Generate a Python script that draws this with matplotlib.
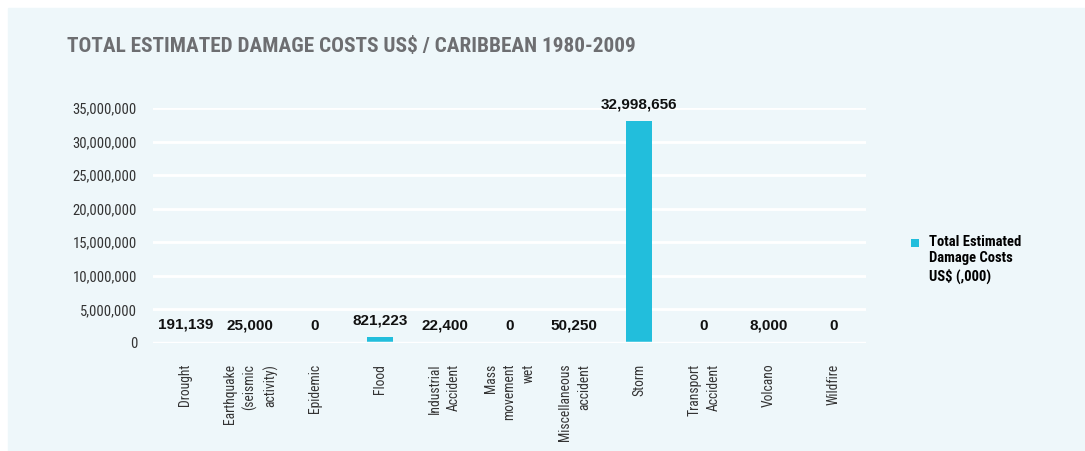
import matplotlib
matplotlib.use('Agg')
import matplotlib.pyplot as plt
import matplotlib.patches as mpatches
from matplotlib.container import BarContainer
from matplotlib.legend_handler import HandlerPatch, update_from_first_child
import numpy as np
from matplotlib.ticker import FuncFormatter
import logging
logging.getLogger('matplotlib.font_manager').setLevel(logging.ERROR)

# categorias e custos estimados (US$ mil)
categorias = ['Drought', 'Earthquake\n(seismic\nactivity)', 'Epidemic', 'Flood',
              'Industrial\nAccident', 'Mass\nmovement\nwet', 'Miscellaneous\naccident',
              'Storm', 'Transport\nAccident', 'Volcano', 'Wildfire']
custos = [191139, 25000, 0, 821223, 22400, 0, 50250, 32998656, 0, 8000, 0]
yticks = [0, 5000000, 10000000, 15000000, 20000000, 25000000, 30000000, 35000000]

fundo = '#eef7fa'
azul = '#22bedc'
estreita = ['Roboto Condensed', 'Liberation Sans Narrow', 'DejaVu Sans']
normal = ['Liberation Sans', 'DejaVu Sans']
plt.rcParams['font.family'] = estreita

fig = plt.figure(figsize=(10.85, 4.51), dpi=100)
fig.patch.set_facecolor('white')
# painel azul claro atras do grafico
fig.patches.append(plt.Rectangle((8/1085, 0), 1 - 8/1085, 1 - 8/451,
                                 transform=fig.transFigure, color=fundo, zorder=-1))

ax = fig.add_axes([153/1085, 1 - 343/451, 713/1085, 235/451])
ax.patch.set_alpha(0)

x = np.arange(len(categorias))
ax.bar(x, custos, width=0.4, color=azul, zorder=3, label='Total Estimated\nDamage Costs\nUS$ (,000)')
# linha do zero por cima das barras
ax.axhline(0, color='white', linewidth=2.5, zorder=4)

for xi, v in zip(x, custos):
    ax.annotate('{:,}'.format(v), (xi, v), xytext=(0, 12.5), textcoords='offset points',
                ha='center', va='center', fontsize=11, fontweight='bold', color='#111111',
                family=normal, clip_on=False)

ax.set_xlim(-0.5, len(categorias) - 0.5)
ax.set_ylim(0, 35000000)
ax.set_yticks(yticks)
ax.yaxis.set_major_formatter(FuncFormatter(lambda v, p: '{:,.0f}'.format(v)))
ax.grid(axis='y', color='white', linewidth=2, zorder=1)
ax.set_axisbelow(True)
for s in ax.spines.values():
    s.set_visible(False)
ax.tick_params(axis='y', length=0, pad=11.5, labelsize=10.5, labelcolor='#333333')
ax.tick_params(axis='x', length=0, pad=15)
ax.set_xticks(x)
ax.set_xticklabels(categorias, rotation=90, ha='center', va='top', fontsize=9.8,
                   color='#333333', multialignment='right', linespacing=1.45)

fig.text(67/1085, 1 - 47/451, 'TOTAL ESTIMATED DAMAGE COSTS US$ / CARIBBEAN 1980-2009',
         fontsize=15.3, fontweight='bold', color='#6d6e71', va='center', ha='left')


# quadradinho da legenda alinhado com a primeira linha do texto
def quadrado(legend, orig_handle, xdescent, ydescent, width, height, fontsize):
    s = 0.55 * fontsize
    return mpatches.Rectangle((-xdescent, -ydescent + height - s + 0.3 * fontsize), s, s)


leg = ax.legend(loc='center left', bbox_to_anchor=(905/713 - 153/713, 0.357), frameon=False,
                handlelength=0.55, handleheight=3.3, handletextpad=0.7, borderaxespad=0,
                handler_map={BarContainer: HandlerPatch(patch_func=quadrado,
                                                        update_func=update_from_first_child)},
                prop={'weight': 'bold', 'size': 10.5, 'family': estreita})
leg._legend_box.align = 'left'
for t in leg.get_texts():
    t.set_linespacing(1.25)

fig.savefig('out.png', dpi=100, facecolor='white')
